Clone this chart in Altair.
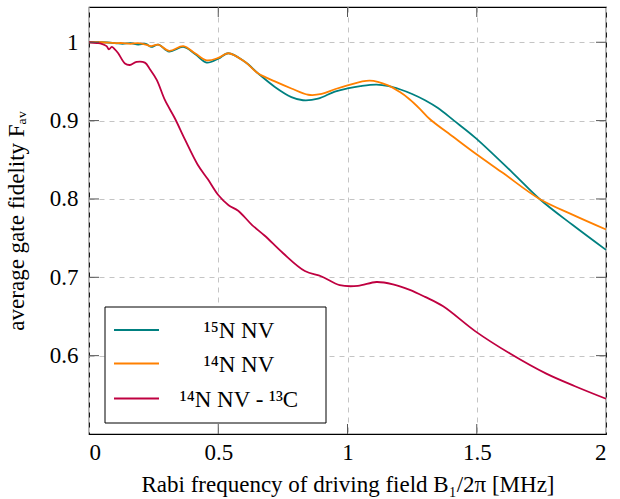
import altair as alt
import pandas as pd

# ---- data ----
teal_x = [0, 0.05, 0.10, 0.13, 0.16, 0.19, 0.22, 0.24, 0.268, 0.31, 0.365, 0.41, 0.455, 0.50, 0.539,
          0.603, 0.655, 0.719, 0.783, 0.828, 0.886, 0.951, 1.0, 1.05, 1.112, 1.16, 1.202, 1.25, 1.30,
          1.35, 1.412, 1.495, 1.64, 1.743, 1.87, 2.0]
teal_y = [1.000, 1.000, 0.999, 0.998, 0.999, 0.997, 0.998, 0.994, 0.997, 0.988, 0.994, 0.985, 0.974,
          0.979, 0.986, 0.975, 0.960, 0.943, 0.930, 0.926, 0.928, 0.937, 0.941, 0.944, 0.946, 0.944,
          0.940, 0.934, 0.926, 0.916, 0.900, 0.878, 0.833, 0.800, 0.767, 0.735]

orange_x = [0, 0.05, 0.10, 0.13, 0.16, 0.19, 0.22, 0.24, 0.268, 0.31, 0.365, 0.41, 0.455, 0.50, 0.539,
            0.603, 0.655, 0.719, 0.783, 0.848, 0.9, 0.951, 1.0, 1.086, 1.157, 1.20, 1.241, 1.28, 1.318,
            1.41, 1.495, 1.602, 1.743, 1.87, 2.0]
orange_y = [1.000, 1.000, 0.999, 0.999, 0.998, 0.999, 0.997, 0.995, 0.997, 0.989, 0.995, 0.986, 0.977,
            0.980, 0.986, 0.975, 0.960, 0.950, 0.941, 0.933, 0.934, 0.940, 0.945, 0.951, 0.945, 0.937,
            0.927, 0.915, 0.902, 0.879, 0.858, 0.833, 0.800, 0.780, 0.761]

red_x = [0, 0.03, 0.049, 0.068, 0.077, 0.088, 0.10, 0.113, 0.139, 0.158, 0.184, 0.216, 0.235, 0.262,
         0.294, 0.332, 0.371, 0.42, 0.46, 0.50, 0.54, 0.577, 0.63, 0.68, 0.75, 0.835, 0.90, 0.97, 1.04,
         1.112, 1.176, 1.241, 1.30, 1.37, 1.495, 1.627, 1.769, 1.88, 2.0]
red_y = [1.000, 0.999, 0.998, 0.995, 0.991, 0.994, 0.991, 0.986, 0.973, 0.971, 0.975, 0.974, 0.966,
         0.952, 0.926, 0.903, 0.876, 0.844, 0.825, 0.805, 0.792, 0.785, 0.767, 0.753, 0.731, 0.708,
         0.701, 0.690, 0.689, 0.694, 0.691, 0.684, 0.675, 0.663, 0.631, 0.603, 0.577, 0.561, 0.545]

series_names = ["\u00b9\u2075N NV", "\u00b9\u2074N NV", "\u00b9\u2074N NV - \u00b9\u00b3C"]
series_colors = ["#008080", "#ff8000", "#bf0040"]

x_ticks = [0, 0.5, 1, 1.5, 2]
y_ticks = [0.6, 0.7, 0.8, 0.9, 1.0]

# ---- table ----
rows = []
for name, xs, ys in zip(series_names, [teal_x, orange_x, red_x], [teal_y, orange_y, red_y]):
    for a, b in zip(xs, ys):
        rows.append({"series": name, "x": a, "y": b})
df = pd.DataFrame(rows)

FONT = "Liberation Serif"
FS = 23
W, H = 517, 427
TICK = 10

xscale = alt.Scale(domain=[0, 2], nice=False, zero=False)
yscale = alt.Scale(domain=[0.5, 1.045], nice=False, zero=False)
xaxis = alt.Axis(values=x_ticks, format="~g",
                 title="Rabi frequency of driving field B\u2081/2\u03c0 [MHz]")
yaxis = alt.Axis(values=y_ticks, format="~g",
                 title="average gate fidelity F\u2090\u1d65")

lines = alt.Chart(df).mark_line(strokeWidth=1.8, interpolate="catmull-rom").encode(
    x=alt.X("x:Q", scale=xscale, axis=xaxis),
    y=alt.Y("y:Q", scale=yscale, axis=yaxis),
    color=alt.Color("series:N",
                    scale=alt.Scale(domain=series_names, range=series_colors),
                    legend=None),
)

ydf = pd.DataFrame({"y": y_ticks})
xdf = pd.DataFrame({"x": x_ticks[1:-1]})

tick_color = "#555555"
ytick_l = alt.Chart(ydf).mark_rule(color=tick_color, strokeWidth=1).encode(
    y=alt.Y("y:Q", scale=yscale, axis=yaxis), x=alt.value(0), x2=alt.value(TICK))
ytick_r = alt.Chart(ydf).mark_rule(color=tick_color, strokeWidth=1).encode(
    y=alt.Y("y:Q", scale=yscale, axis=yaxis), x=alt.value(W - TICK), x2=alt.value(W))
xtick_b = alt.Chart(xdf).mark_rule(color=tick_color, strokeWidth=1).encode(
    x=alt.X("x:Q", scale=xscale, axis=xaxis), y=alt.value(H - TICK), y2=alt.value(H))
xtick_t = alt.Chart(xdf).mark_rule(color=tick_color, strokeWidth=1).encode(
    x=alt.X("x:Q", scale=xscale, axis=xaxis), y=alt.value(0), y2=alt.value(TICK))

# ---- legend box (drawn by hand, pgfplots style) ----
LX0, LX1, LY0, LY1 = 16, 237, 300, 416
row_y = [323, 356.5, 391.5]
legend_layers = [
    alt.Chart(pd.DataFrame({"a": [0]})).mark_rect(
        fill="white", stroke="black", strokeWidth=1).encode(
        x=alt.value(LX0), x2=alt.value(LX1), y=alt.value(LY0), y2=alt.value(LY1))
]
for name, col, ry in zip(series_names, series_colors, row_y):
    ldf = pd.DataFrame({"series": [name]})
    legend_layers.append(
        alt.Chart(ldf).mark_rule(color=col, strokeWidth=2).encode(
            x=alt.value(25), x2=alt.value(70), y=alt.value(ry))
    )
    legend_layers.append(
        alt.Chart(ldf).mark_text(font=FONT, fontSize=FS, color="black",
                                 align="center", baseline="middle").encode(
            text="series:N", x=alt.value(150), y=alt.value(ry + 1))
    )

chart = alt.layer(lines, ytick_l, ytick_r, xtick_b, xtick_t, *legend_layers).properties(
    width=W, height=H,
    autosize=alt.AutoSizeParams(type="none"),
    padding={"left": 89, "top": 7, "right": 14, "bottom": 65},
    background="white",
).configure_view(
    stroke="black", strokeWidth=1.2
).configure_axis(
    domain=False, ticks=False,
    grid=True, gridColor="#c4c4c4", gridDash=[5, 5], gridWidth=1,
    labelFont=FONT, labelFontSize=FS, labelColor="black",
    titleFont=FONT, titleFontSize=FS, titleFontWeight="normal", titleColor="black",
).configure_axisY(
    labelPadding=11, titlePadding=21,
).configure_axisX(
    labelPadding=7, titlePadding=9,
)

chart.save("out.html", embed_options={"renderer": "svg", "actions": False})
